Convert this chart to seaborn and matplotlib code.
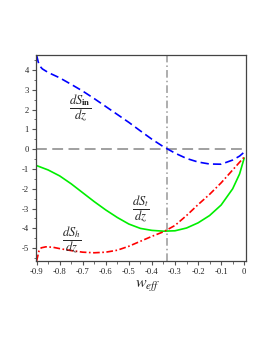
import matplotlib
matplotlib.use("Agg")
import matplotlib.pyplot as plt
import numpy as np
import pandas as pd
import seaborn as sns
from matplotlib.ticker import MultipleLocator

# w_eff grid and read-off values of the three entropy derivatives
w_in = [-0.9, -0.893, -0.885, -0.875, -0.85, -0.8, -0.75, -0.7, -0.65, -0.6, -0.55,
        -0.5, -0.45, -0.4, -0.35, -0.3, -0.25, -0.2, -0.15, -0.1, -0.05, -0.02, 0.0]
ds_in = [4.75, 4.4, 4.18, 4.05, 3.87, 3.6, 3.27, 2.93, 2.55, 2.15, 1.75,
         1.35, 0.92, 0.5, 0.12, -0.2, -0.47, -0.65, -0.75, -0.76, -0.55, -0.35, -0.15]

w_t = [-0.9, -0.85, -0.8, -0.75, -0.7, -0.65, -0.6, -0.55, -0.5, -0.45, -0.4,
       -0.35, -0.3, -0.25, -0.2, -0.15, -0.1, -0.05, -0.02, 0.0]
ds_t = [-0.83, -1.05, -1.35, -1.75, -2.2, -2.65, -3.07, -3.45, -3.78, -4.0, -4.1,
        -4.14, -4.12, -3.98, -3.72, -3.35, -2.82, -2.0, -1.25, -0.45]

w_h = [-0.9, -0.895, -0.89, -0.88, -0.86, -0.83, -0.8, -0.75, -0.7, -0.65, -0.6,
       -0.55, -0.5, -0.45, -0.4, -0.35, -0.3, -0.25, -0.2, -0.15, -0.1, -0.05, 0.0]
ds_h = [-5.65, -5.4, -5.15, -4.98, -4.93, -4.95, -5.02, -5.12, -5.2, -5.23, -5.2,
        -5.1, -4.9, -4.65, -4.4, -4.17, -3.85, -3.35, -2.8, -2.28, -1.7, -1.05, -0.4]

w_crit = -1 / 3
x_ticks = [-0.9, -0.8, -0.7, -0.6, -0.5, -0.4, -0.3, -0.2, -0.1, 0.0]
x_tick_labels = ["-0.9", "-0.8", "-0.7", "-0.6", "-0.5", "-0.4", "-0.3", "-0.2", "-0.1", "0"]
y_ticks = [-5, -4, -3, -2, -1, 0, 1, 2, 3, 4]

sns.set_style("ticks")
plt.rcParams["font.family"] = ["Liberation Serif", "DejaVu Serif"]
plt.rcParams["mathtext.fontset"] = "stix"
plt.rcParams["axes.unicode_minus"] = False

fig = plt.figure(figsize=(2.66, 3.44), dpi=100)
ax = fig.add_axes([0.135, 0.241, 0.79, 0.599])

gray = "#999999"
ax.axhline(0, color=gray, lw=1.3, dashes=(6, 3))
ax.axvline(w_crit, color=gray, lw=1.1, dashes=(5, 2, 1, 2))

sns.lineplot(x=w_in, y=ds_in, ax=ax, color="#0000ff", lw=1.2, sort=False)
ax.lines[-1].set_dashes((5, 2.5))
sns.lineplot(x=w_t, y=ds_t, ax=ax, color="#00ee00", lw=1.2, sort=False)
sns.lineplot(x=w_h, y=ds_h, ax=ax, color="#ff0000", lw=1.2, sort=False)
ax.lines[-1].set_dashes((4, 1.5, 1, 1.5))

ax.set_xlim(-0.903, 0.008)
ax.set_ylim(-5.65, 4.75)
ax.set_xticks(x_ticks, x_tick_labels)
ax.set_yticks(y_ticks, [str(v) for v in y_ticks])
ax.xaxis.set_minor_locator(MultipleLocator(0.05))
ax.yaxis.set_minor_locator(MultipleLocator(0.5))
ax.tick_params(which="major", length=3, width=0.8, labelsize=6.2, pad=2, color="#555555")
ax.tick_params(which="minor", length=1.8, width=0.6, color="#555555")
for sp in ax.spines.values():
    sp.set_visible(True)
    sp.set_color("#444444")
    sp.set_linewidth(0.9)

lab = dict(fontsize=9, ha="center", va="center")
ax.text(-0.71, 2.09, r"$\dfrac{dS_{\mathbf{in}}}{dz}$", **lab)
ax.text(-0.447, -3.0, r"$\dfrac{dS_{t}}{dz}$", **lab)
ax.text(-0.747, -4.55, r"$\dfrac{dS_{h}}{dz}$", **lab)

ax.set_xlabel(r"$w_{eff}$", fontsize=11.5)
ax.xaxis.set_label_coords(0.53, -0.075)
ax.set_ylabel("")

fig.savefig("out.png", dpi=100)
